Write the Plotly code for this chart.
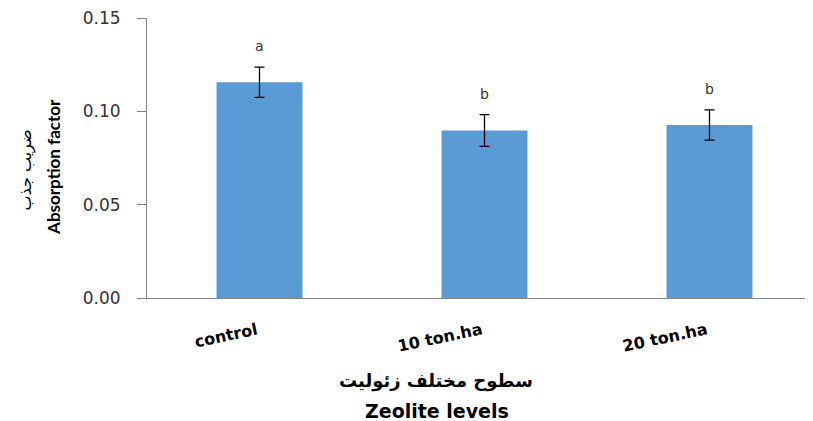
import plotly.graph_objects as go

categories = ["control", "10 ton.ha", "20 ton.ha"]
values = [0.1156, 0.0897, 0.0927]
errors = [0.0081, 0.0085, 0.0081]
letters = ["a", "b", "b"]
y_ticks = [0.00, 0.05, 0.10, 0.15]
y_tick_labels = ["0.00", "0.05", "0.10", "0.15"]

OFF = 8  # page body margin
W, H = 813 - OFF, 421 - OFF
ML, MR, MT, MB = 147 - OFF, 0, 18 - OFF, 123
plot_w = W - ML - MR
cat_px = 225.0
x_end = -0.5 + plot_w / cat_px

fig = go.Figure()
fig.add_trace(go.Bar(
    x=list(range(len(categories))),
    y=values,
    width=0.382,
    marker=dict(color="#5B9BD5", line=dict(width=0)),
    error_y=dict(type="data", array=errors, visible=True,
                 color="#000000", thickness=1.3, width=5),
    hoverinfo="skip",
))

annotations = []
# significance letters
for i, (v, e, l) in enumerate(zip(values, errors, letters)):
    annotations.append(dict(x=i, y=v + e, xref="x", yref="y", text=l,
                            showarrow=False, xanchor="center", yanchor="middle", yshift=21,
                            font=dict(family="DejaVu Sans", size=14, color="#333333")))
# rotated category labels (right end at the category centre)
for i, c in enumerate(categories):
    annotations.append(dict(x=i, y=0, xref="x", yref="y", text=c,
                            showarrow=False, textangle=-12, xshift=2, yshift=-19,
                            xanchor="right", yanchor="top",
                            font=dict(family="DejaVu Sans", size=16, color="#000000", weight="bold")))
# x-axis titles
annotations.append(dict(x=0.434, y=-0.296, xref="paper", yref="paper",
                        text="سطوح مختلف زئولیت", showarrow=False,
                        xanchor="center", yanchor="middle",
                        font=dict(family="DejaVu Sans", size=18, color="#000000", weight="bold")))
annotations.append(dict(x=0.435, y=-0.404, xref="paper", yref="paper",
                        text="Zeolite levels", showarrow=False,
                        xanchor="center", yanchor="middle",
                        font=dict(family="DejaVu Sans", size=19, color="#000000", weight="bold")))
# y-axis titles
annotations.append(dict(x=-0.181, y=0.457, xref="paper", yref="paper",
                        text="ضریب جذب", showarrow=False, textangle=-90,
                        xanchor="center", yanchor="middle",
                        font=dict(family="DejaVu Sans", size=16, color="#000000")))
annotations.append(dict(x=-0.1404, y=0.47, xref="paper", yref="paper",
                        text="Absorption factor", showarrow=False, textangle=-90,
                        xanchor="center", yanchor="middle",
                        font=dict(family="Lato", size=17, color="#000000", weight="bold")))

fig.update_layout(
    width=W, height=H,
    margin=dict(l=ML, r=MR, t=MT, b=MB, pad=0),
    paper_bgcolor="white", plot_bgcolor="white",
    showlegend=False,
    annotations=annotations,
    xaxis=dict(range=[-0.5, x_end], showticklabels=False, ticks="",
               showgrid=False, zeroline=False, showline=True,
               linecolor="#868686", linewidth=1),
    yaxis=dict(range=[0, 0.15], tickvals=y_ticks, ticktext=y_tick_labels,
               ticks="outside", ticklen=9, tickcolor="#868686",
               ticklabelstandoff=13, ticklabeloverflow="allow",
               tickfont=dict(family="DejaVu Sans", size=17, color="#333333"),
               showgrid=False, zeroline=False, showline=True,
               linecolor="#868686", linewidth=1),
)

fig.write_html("out.html")
